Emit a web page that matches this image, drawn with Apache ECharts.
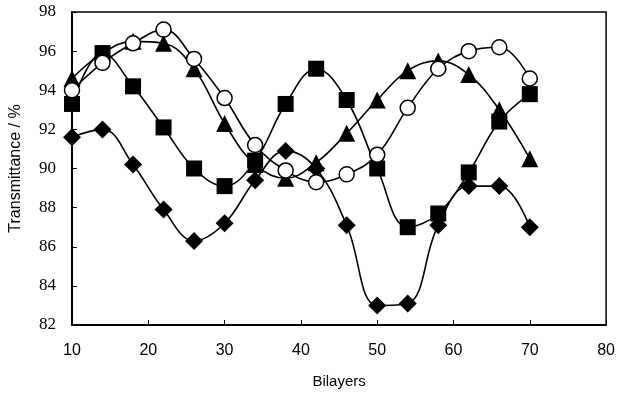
<!DOCTYPE html>
<html>
<head>
<meta charset="utf-8">
<script src="https://cdn.jsdelivr.net/npm/echarts@6/dist/echarts.min.js"></script>
<style>html,body{margin:0;padding:0;background:#fff}#c{width:618px;height:394px}</style>
</head>
<body>
<div id="c"></div>
<script>
var bilayers = [10, 14, 18, 22, 26, 30, 34, 38, 42, 46, 50, 54, 58, 62, 66, 70];
var diamondVals  = [91.6, 92.0, 90.2, 87.9, 86.3, 87.2, 89.4, 90.9, 90.0, 87.1, 83.0, 83.1, 87.1, 89.1, 89.1, 87.0];
var squareVals   = [93.3, 95.9, 94.2, 92.1, 90.0, 89.1, 90.4, 93.3, 95.1, 93.5, 90.0, 87.0, 87.7, 89.8, 92.4, 93.8];
var triangleVals = [94.6, 95.9, 96.5, 96.4, 95.1, 92.3, 90.2, 89.5, 90.3, 91.8, 93.5, 95.0, 95.5, 94.8, 93.0, 90.5];
var circleVals   = [94.0, 95.4, 96.4, 97.1, 95.6, 93.6, 91.2, 89.9, 89.3, 89.7, 90.7, 93.1, 95.1, 96.0, 96.2, 94.6];

function pairs(v){ return bilayers.map(function(x,i){ return [x, v[i]]; }); }

function mk(name, vals, symbol, size, fill){
  return {
    name: name, type: 'line', data: pairs(vals), smooth: 0.4,
    symbol: symbol, symbolSize: size, showSymbol: true,
    lineStyle: {color: '#000', width: 1.6},
    itemStyle: {color: fill, borderColor: '#000', borderWidth: fill === '#fff' ? 1.5 : 0},
    z: 2
  };
}

var chart = echarts.init(document.getElementById('c'), null, {renderer: 'canvas'});
chart.setOption({
  animation: false,
  backgroundColor: '#fff',
  grid: {left: 67, right: 11, top: 12, bottom: 68, show: true, borderColor: '#000', borderWidth: 1.5, backgroundColor: 'transparent'},
  xAxis: {
    type: 'value', min: 10, max: 80, interval: 10,
    name: 'Bilayers', nameLocation: 'middle', nameGap: 49,
    nameTextStyle: {fontFamily: 'Liberation Sans', fontSize: 15, color: '#000'},
    axisLine: {lineStyle: {color: '#000', width: 2}},
    axisTick: {inside: true, length: 5, lineStyle: {color: '#000'}},
    axisLabel: {fontFamily: 'Liberation Sans', fontSize: 16, color: '#000', margin: 18},
    splitLine: {show: false}
  },
  yAxis: {
    type: 'value', min: 82, max: 98, interval: 2,
    name: 'Transmittance / %', nameLocation: 'middle', nameGap: 48,
    nameTextStyle: {fontFamily: 'Liberation Sans', fontSize: 16, color: '#000'},
    axisLine: {lineStyle: {color: '#000', width: 2}},
    axisTick: {inside: true, length: 5, lineStyle: {color: '#000'}},
    axisLabel: {fontFamily: 'Liberation Serif', fontSize: 17, color: '#000', margin: 16},
    splitLine: {show: false}
  },
  series: [
    mk('diamond', diamondVals, 'diamond', 18, '#000'),
    mk('square', squareVals, 'rect', 16, '#000'),
    mk('triangle', triangleVals, 'triangle', 17, '#000'),
    mk('circle', circleVals, 'circle', 15, '#fff')
  ]
});
</script>
</body>
</html>
